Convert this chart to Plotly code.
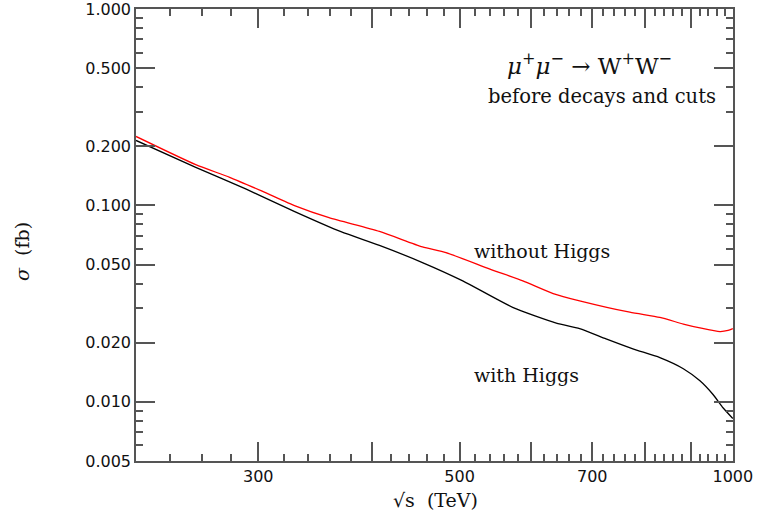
import plotly.graph_objects as go

# Data
sqrt_s_nohiggs = [220, 256, 279, 303, 330, 359, 408, 455, 483, 540, 587, 634, 678, 770, 831, 882, 920, 968, 988, 1000]
sigma_nohiggs = [0.2245, 0.1613, 0.1391, 0.1182, 0.0992, 0.0866, 0.0737, 0.0615, 0.0575, 0.0474,
                 0.0413, 0.0356, 0.0327, 0.0286, 0.0269, 0.0249, 0.0238, 0.0228, 0.0231, 0.0236]

sqrt_s_higgs = [220, 256, 291, 330, 370, 408, 455, 504, 572, 639, 678, 725, 776, 831, 882, 920, 951, 976, 1000]
sigma_higgs = [0.2143, 0.1563, 0.1210, 0.0925, 0.0735, 0.0626, 0.0512, 0.0413, 0.0303, 0.0252,
               0.0236, 0.0209, 0.0186, 0.0168, 0.01475, 0.0128, 0.0109, 0.0093, 0.00823]

x_major = [300, 400, 500, 600, 700, 800, 900, 1000]
x_major_text = ["300", "", "500", "", "700", "", "", "1000"]
x_minor = [v for v in range(240, 1000, 20) if v % 100 != 0]

y_major = [0.005, 0.01, 0.02, 0.05, 0.1, 0.2, 0.5, 1.0]
y_major_text = ["0.005", "0.010", "0.020", "0.050", "0.100", "0.200", "0.500", "1.000"]
y_minor = [0.006, 0.007, 0.008, 0.009, 0.03, 0.04, 0.06, 0.07, 0.08, 0.09, 0.3, 0.4, 0.6, 0.7, 0.8, 0.9]

fig = go.Figure()
fig.add_trace(go.Scatter(x=sqrt_s_nohiggs, y=sigma_nohiggs, mode="lines",
                         line=dict(color="#ff0000", width=1.3, shape="spline", smoothing=0.6),
                         showlegend=False))
fig.add_trace(go.Scatter(x=sqrt_s_higgs, y=sigma_higgs, mode="lines",
                         line=dict(color="#000000", width=1.3, shape="spline", smoothing=0.6),
                         showlegend=False))

axis_common = dict(
    type="log", showgrid=False, zeroline=False,
    showline=True, linecolor="#555555", linewidth=1.5, mirror="allticks",
    ticks="inside", ticklen=19, tickwidth=1.5, tickcolor="#555555",
    tickfont=dict(family="DejaVu Sans", size=16, color="#111111"),
    ticklabeloverflow="allow", automargin=False,
)

fig.update_xaxes(
    **axis_common,
    range=[2.342423, 3.0002],
    tickmode="array", tickvals=x_major, ticktext=x_major_text,
    minor=dict(tickmode="array", tickvals=x_minor, ticks="inside", ticklen=7,
               tickwidth=1.5, tickcolor="#555555", showgrid=False),
)
fig.update_yaxes(
    **axis_common,
    range=[-2.3012, 0.0002],
    tickmode="array", tickvals=y_major, ticktext=y_major_text,
    minor=dict(tickmode="array", tickvals=y_minor, ticks="inside", ticklen=7,
               tickwidth=1.5, tickcolor="#555555", showgrid=False),
)

L, R, T, B = 136, 26, 9, 62
W, H = 759, 523
pw, ph = W - L - R, H - T - B

def px(x):
    return (x - L) / pw

def py(y):
    return (H - B - y) / ph

serif = "DejaVu Serif"
annotations = [
    dict(x=px(589), y=py(64), text="<i>μ</i><sup>+</sup><i>μ</i><sup>−</sup> → W<sup>+</sup>W<sup>−</sup>",
         font=dict(family=serif, size=23, color="#111111"), xanchor="center", yanchor="middle"),
    dict(x=px(602), y=py(97), text="before decays and cuts",
         font=dict(family=serif, size=19.5, color="#111111"), xanchor="center", yanchor="middle"),
    dict(x=px(472), y=py(251), text="without Higgs",
         font=dict(family=serif, size=19, color="#111111"), xanchor="left", yanchor="middle"),
    dict(x=px(472), y=py(375), text="with Higgs",
         font=dict(family=serif, size=19, color="#111111"), xanchor="left", yanchor="middle"),
    dict(x=px(435), y=py(500), text="√s  (TeV)",
         font=dict(family=serif, size=19, color="#111111"), xanchor="center", yanchor="middle"),
    dict(x=px(22), y=py(252), text="<i>σ</i>  (fb)", textangle=-90,
         font=dict(family=serif, size=19, color="#111111"), xanchor="center", yanchor="middle"),
]
for a in annotations:
    a.update(xref="paper", yref="paper", showarrow=False)

fig.update_layout(
    width=W, height=H,
    margin=dict(l=L, r=R, t=T, b=B, autoexpand=False),
    paper_bgcolor="white", plot_bgcolor="white",
    annotations=annotations,
)

fig.write_html("out.html")
